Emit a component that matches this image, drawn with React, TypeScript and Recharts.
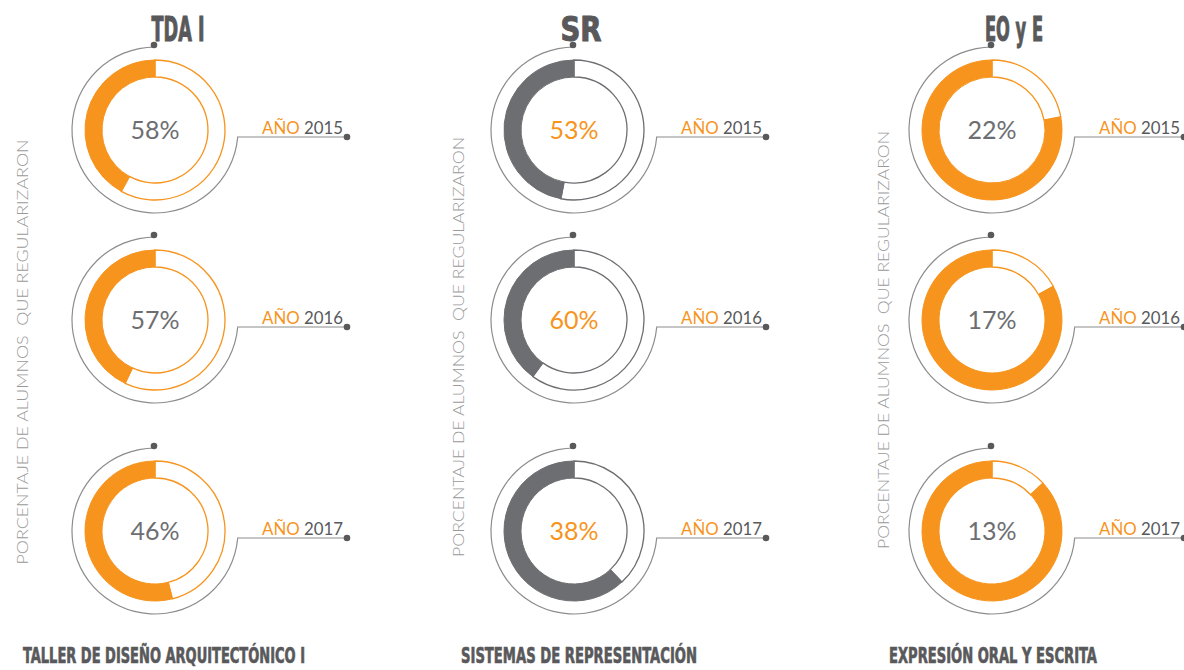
import { PieChart, Pie, Cell, Label } from "recharts";

const materias = ["TDA I", "SR", "EO y E"];
const nombresCompletos = [
  "TALLER DE DISEÑO ARQUITECTÓNICO I",
  "SISTEMAS DE REPRESENTACIÓN",
  "EXPRESIÓN ORAL Y ESCRITA",
];
const anios = ["2015", "2016", "2017"];
const porcentajesTDA = [58, 57, 46];
const porcentajesSR = [53, 60, 38];
const porcentajesEOE = [22, 17, 13];
const tituloEje = "PORCENTAJE DE ALUMNOS  QUE REGULARIZARON";
const marcoArco = [{ valor: 1 }];

const NARANJA = "#f7941d";
const GRIS = "#6d6e71";
const GRIS_TEXTO = "#6d6e71";
const GRIS_LINEA = "#8c8c8c";
const GRIS_PUNTO = "#58595b";
const FUENTE = "Lato, 'Open Sans', sans-serif";
const FUENTE_TITULO = "'Liberation Sans Narrow', 'DejaVu Sans Condensed', sans-serif";

const COL_X = [155, 574, 992];
const FILA_Y = [130, 320, 531];
const R_EXT = 70;
const R_INT = 53;
const R_MARCO = 83;
const TAM = 200;

const columnas = [
  { datos: porcentajesTDA, anillo: NARANJA, texto: GRIS_TEXTO },
  { datos: porcentajesSR, anillo: GRIS, texto: NARANJA },
  { datos: porcentajesEOE, anillo: NARANJA, texto: GRIS_TEXTO },
];

const titulosArriba = [
  { x: 178, w: 53 },
  { x: 581, w: 41 },
  { x: 1014, w: 58 },
];
const titulosAbajo = [
  { x1: 23, x2: 305 },
  { x1: 461, x2: 697 },
  { x1: 889, x2: 1097 },
];
const ejes = [
  { x: 28, y: 352, len: 425 },
  { x: 464, y: 347, len: 420 },
  { x: 889, y: 340, len: 418 },
];

function Dona({ cx, cy, valor, color, colorTexto }: { cx: number; cy: number; valor: number; color: string; colorTexto: string }) {
  const partes = [
    { nombre: "regularizaron", valor },
    { nombre: "resto", valor: 100 - valor },
  ];
  return (
    <div style={{ position: "absolute", left: cx - TAM / 2, top: cy - TAM / 2 }}>
      <PieChart width={TAM} height={TAM} margin={{ top: 0, right: 0, bottom: 0, left: 0 }}>
        <Pie
          data={marcoArco}
          dataKey="valor"
          cx="50%"
          cy="50%"
          startAngle={90}
          endAngle={355}
          innerRadius={R_MARCO - 0.6}
          outerRadius={R_MARCO + 0.6}
          stroke="none"
          fill={GRIS_LINEA}
          isAnimationActive={false}
        />
        <Pie
          data={partes}
          dataKey="valor"
          nameKey="nombre"
          cx="50%"
          cy="50%"
          startAngle={90}
          endAngle={-270}
          innerRadius={R_INT}
          outerRadius={R_EXT}
          isAnimationActive={false}
        >
          <Cell fill="#ffffff" stroke={color} strokeWidth={1.3} />
          <Cell fill={color} stroke={color} strokeWidth={1} />
          <Label
            value={`${valor}%`}
            position="center"
            fill={colorTexto}
            fontSize={25}
            fontFamily={FUENTE}
          />
        </Pie>
      </PieChart>
    </div>
  );
}

export default function App() {
  return (
    <div style={{ position: "absolute", left: 0, top: 0, width: 1184, height: 670, background: "#fff", overflow: "hidden" }}>
      {columnas.map((col, c) =>
        col.datos.map((v, f) => (
          <Dona key={`${c}-${f}`} cx={COL_X[c]} cy={FILA_Y[f]} valor={v} color={col.anillo} colorTexto={col.texto} />
        ))
      )}
      <svg width={1184} height={670} style={{ position: "absolute", left: 0, top: 0, pointerEvents: "none" }}>
        {COL_X.map((cx, c) =>
          FILA_Y.map((cy, f) => (
            <g key={`l-${c}-${f}`}>
              <circle cx={cx - 1} cy={cy - R_MARCO - 2} r={3.3} fill={GRIS_PUNTO} />
              <line x1={cx + R_MARCO - 1} y1={cy + 7} x2={cx + 192} y2={cy + 7} stroke={GRIS_LINEA} strokeWidth={1.2} />
              <circle cx={cx + 192} cy={cy + 7} r={3.3} fill={GRIS_PUNTO} />
              <text x={cx + 188} y={cy + 4} textAnchor="end" fontFamily={FUENTE} fontSize={17} textLength={81} lengthAdjust="spacingAndGlyphs">
                <tspan fill={NARANJA}>AÑO </tspan>
                <tspan fill="#58595b">{anios[f]}</tspan>
              </text>
            </g>
          ))
        )}
        {materias.map((m, c) => (
          <text
            key={`t-${c}`}
            x={titulosArriba[c].x}
            y={41}
            textAnchor="middle"
            fontFamily={FUENTE_TITULO}
            fontWeight="bold"
            fontSize={33}
            fill="#59595b"
            stroke="#59595b"
            strokeWidth={1}
            textLength={titulosArriba[c].w}
            lengthAdjust="spacingAndGlyphs"
          >
            {m}
          </text>
        ))}
        {nombresCompletos.map((n, c) => (
          <text
            key={`b-${c}`}
            x={(titulosAbajo[c].x1 + titulosAbajo[c].x2) / 2}
            y={663}
            textAnchor="middle"
            fontFamily={FUENTE_TITULO}
            fontWeight="bold"
            fontSize={22}
            fill="#59595b"
            stroke="#59595b"
            strokeWidth={0.7}
            textLength={titulosAbajo[c].x2 - titulosAbajo[c].x1}
            lengthAdjust="spacingAndGlyphs"
          >
            {n}
          </text>
        ))}
        {ejes.map((e, c) => (
          <text
            key={`e-${c}`}
            x={e.x}
            y={e.y}
            transform={`rotate(-90 ${e.x} ${e.y})`}
            textAnchor="middle"
            fontFamily={FUENTE}
            fontSize={16}
            fontWeight={300}
            fill="#9a9a9a"
            textLength={e.len}
            lengthAdjust="spacingAndGlyphs"
            style={{ whiteSpace: "pre" }}
          >
            {tituloEje}
          </text>
        ))}
      </svg>
    </div>
  );
}
